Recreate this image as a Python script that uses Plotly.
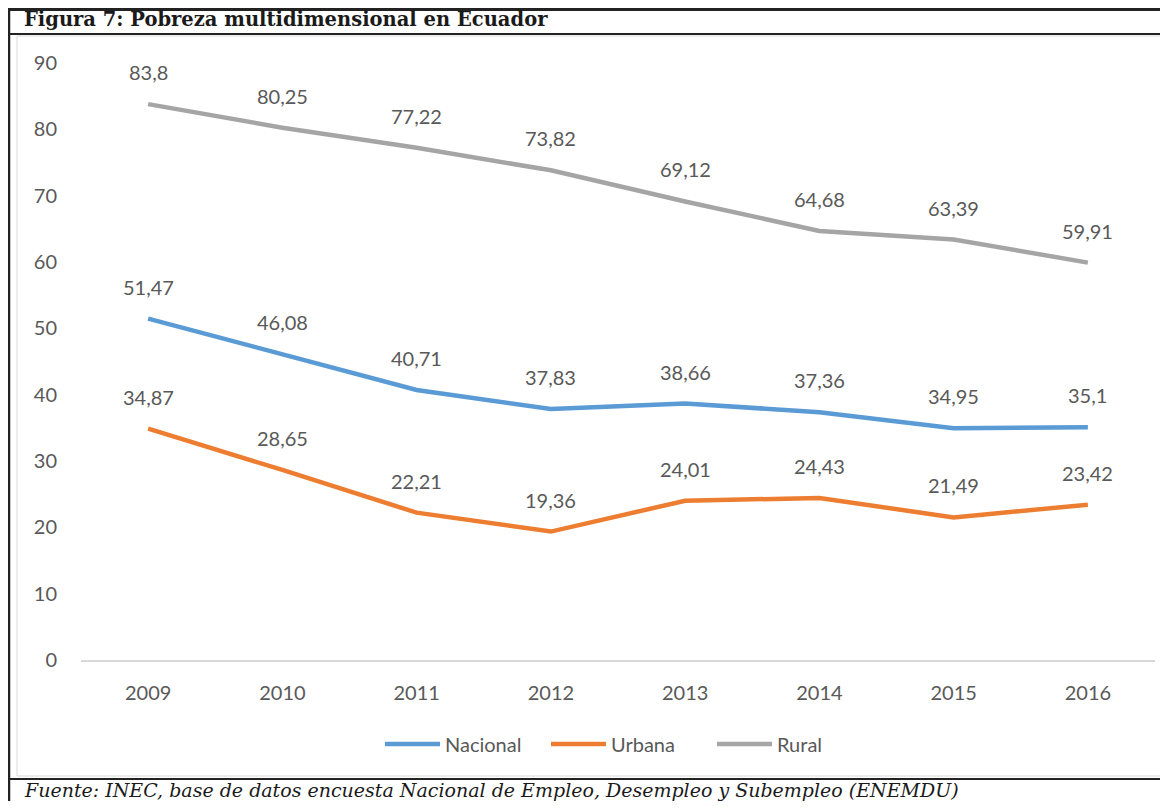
import plotly.graph_objects as go

years = ["2009", "2010", "2011", "2012", "2013", "2014", "2015", "2016"]
nacional = [51.47, 46.08, 40.71, 37.83, 38.66, 37.36, 34.95, 35.1]
urbana = [34.87, 28.65, 22.21, 19.36, 24.01, 24.43, 21.49, 23.42]
rural = [83.8, 80.25, 77.22, 73.82, 69.12, 64.68, 63.39, 59.91]
y_ticks = [0, 10, 20, 30, 40, 50, 60, 70, 80, 90]

series = [("Nacional", nacional, "#5B9BD5"),
          ("Urbana", urbana, "#ED7D31"),
          ("Rural", rural, "#A5A5A5")]

# figure size chosen so the page (with the browser's 8px body margin) fits the window
W, H = 1152, 793
TXT = "#595959"
FONT = "Lato"
FS = 20


def px(x):
    return x / W


def py(y):
    return 1 - y / H


fig = go.Figure()
annotations = []
for name, vals, col in series:
    fig.add_trace(go.Scatter(x=years, y=vals, name=name, mode="lines",
                             line=dict(color=col, width=4.5), hoverinfo="x+y+name"))
    for i, v in enumerate(vals):
        annotations.append(dict(x=i, y=v, xref="x", yref="y", text=str(v).replace(".", ","),
                                showarrow=False, yshift=32,
                                font=dict(family=FONT, size=FS, color=TXT)))

annotations.append(dict(x=px(14), y=py(11.5), xref="paper", yref="paper", xanchor="left", yanchor="middle",
                        text="<b>Figura 7: Pobreza multidimensional en Ecuador</b>", showarrow=False,
                        font=dict(family="DejaVu Serif", size=19.5, color="#1a1a1a")))
annotations.append(dict(x=px(14), y=py(781.5), xref="paper", yref="paper", xanchor="left", yanchor="middle",
                        text="<i>Fuente: INEC, base de datos encuesta Nacional de Empleo, Desempleo y Subempleo (ENEMDU)</i>",
                        showarrow=False,
                        font=dict(family="DejaVu Serif", size=19, color="#1a1a1a")))

shapes = [
    dict(type="rect", xref="paper", yref="paper", x0=px(9), x1=px(1158), y0=py(28), y1=py(768),
         line=dict(color="#D9D9D9", width=1)),
    dict(type="line", xref="paper", yref="paper", x0=0, x1=1, y0=py(1.5), y1=py(1.5),
         line=dict(color="#222222", width=3)),
    dict(type="line", xref="paper", yref="paper", x0=px(1), x1=px(1), y0=1, y1=0,
         line=dict(color="#222222", width=2.5)),
    dict(type="line", xref="paper", yref="paper", x0=0, x1=1, y0=py(26), y1=py(26),
         line=dict(color="#222222", width=2)),
    dict(type="line", xref="paper", yref="paper", x0=0, x1=1, y0=py(771), y1=py(771),
         line=dict(color="#222222", width=2)),
]

fig.update_layout(
    width=W, height=H,
    margin=dict(l=0, r=0, t=0, b=0),
    paper_bgcolor="white", plot_bgcolor="white",
    showlegend=True,
    legend=dict(orientation="h", x=px(372), xanchor="left", y=py(736), yanchor="middle",
                font=dict(family=FONT, size=FS, color=TXT),
                itemwidth=55, entrywidth=96, entrywidthmode="pixels",
                bgcolor="rgba(0,0,0,0)"),
    xaxis=dict(domain=[px(73), px(1147)], type="category", range=[-0.5, 7.5],
               showgrid=False, showline=True, linecolor="#D9D9D9", linewidth=1.5,
               ticks="", tickfont=dict(family=FONT, size=FS, color=TXT), ticklabelstandoff=14,
               zeroline=False, automargin=False),
    yaxis=dict(domain=[py(652), py(55)], range=[0, 90], tickvals=y_ticks,
               showgrid=False, zeroline=False, showline=False, ticks="",
               tickfont=dict(family=FONT, size=FS, color=TXT), ticklabelstandoff=23,
               automargin=False),
    annotations=annotations,
    shapes=shapes,
)

fig.write_html("out.html")
